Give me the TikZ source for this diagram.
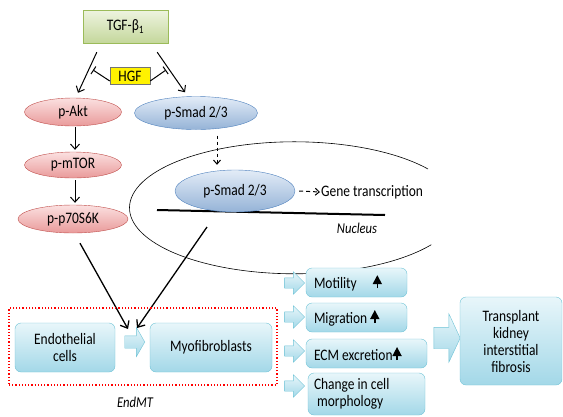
\documentclass[tikz,border=0pt]{standalone}
\usepackage{fontspec}
\setmainfont{Carlito}[FakeStretch=0.84]
\usetikzlibrary{shapes.geometric,shapes.arrows,arrows.meta}

\definecolor{grtop}{HTML}{EEF4E0}
\definecolor{grbot}{HTML}{C4D79B}
\definecolor{grline}{HTML}{9BBB59}
\definecolor{rdtop}{HTML}{FBE0E0}
\definecolor{rdbot}{HTML}{E99A9A}
\definecolor{rdline}{HTML}{C0504D}
\definecolor{bltop}{HTML}{E3ECF7}
\definecolor{blbot}{HTML}{95B3D7}
\definecolor{blline}{HTML}{4F81BD}
\definecolor{cytop}{HTML}{E8F6FA}
\definecolor{cybot}{HTML}{A3D8E8}
\definecolor{cyline}{HTML}{6FC3D6}

\newcommand\upar{\tikz[baseline=0pt]\draw[line width=1.6pt,-{Triangle[width=9pt,length=9pt]}] (0pt,0pt) -- (0pt,13pt);}

\begin{document}
\begin{tikzpicture}[x=1pt,y=-1pt,
    every node/.style={font=\fontsize{16}{17}\selectfont},
    redov/.style={ellipse, draw=rdline, top color=rdtop, bottom color=rdbot,
      inner sep=0pt, minimum width=97, minimum height=28},
    blueov/.style={ellipse, draw=blline, top color=bltop, bottom color=blbot,
      inner sep=0pt},
    cybox/.style={rectangle, rounded corners=6pt, draw=cyline, top color=cytop,
      bottom color=cybot, align=center, inner sep=2pt},
    effbox/.style={cybox, align=flush left, inner xsep=8pt, minimum height=29},
    cyarr/.style={single arrow, draw=cyline, top color=cytop, bottom color=cybot,
      minimum width=0pt, inner sep=5pt, single arrow head extend=6pt},
    arr/.style={-{Straight Barb[length=5pt,width=9pt]}, line width=1pt},
    bigarr/.style={-{Straight Barb[length=6pt,width=10pt]}, line width=1.3pt},
    darr/.style={-{Straight Barb[length=4pt,width=7pt]}, line width=1pt, dashed},
    inh/.style={-{Bar[width=9pt]}, line width=1pt}]
  \useasboundingbox (0,0) rectangle (563,416);

  % signalling
  \node[rectangle, draw=grline, top color=grtop, bottom color=grbot,
    minimum width=85, minimum height=33] (tgf) at (125.5,26.5) {TGF-β\textsubscript{1}};
  \node[rectangle, draw=black!55, fill=yellow, inner sep=1pt,
    minimum width=40, minimum height=17] (hgf) at (130,76) {HGF};
  \node[redov] (akt) at (73,112) {p-Akt};
  \node[redov, minimum height=26] (mtor) at (73,165) {p-mTOR};
  \node[redov, minimum width=110] (p70) at (73,219) {p-p70S6K};
  \node[blueov, minimum width=123, minimum height=33] (smad) at (196,113) {p-Smad 2/3};

  % nucleus
  \draw[line width=0.6pt] (428,169) arc[start angle=-36, end angle=-326,
    x radius=165, y radius=66];
  \draw[line width=2pt] (157,210) -- (385,215);
  \node[blueov, minimum width=120, minimum height=42] (nsmad) at (235,191) {p-Smad 2/3};
  \node[anchor=west, inner sep=1pt] (gene) at (320,192) {Gene transcription};
  \node[font=\fontsize{15}{16}\selectfont\itshape] (nuc) at (357,228) {Nucleus};

  \coordinate (inhL) at (93,70);
  \coordinate (inhR) at (166,70);
  \coordinate (nucout) at (207,227);
  \coordinate (endL) at (128,329);
  \coordinate (endR) at (137,328);

  \draw[arr] ([shift={(14,9)}]tgf.south west) -- ([shift={(5,-5)}]akt.north);
  \draw[arr] ([shift={(-11,9)}]tgf.south east) -- ([shift={(-11,-4)}]smad.north);
  \draw[inh] ([shift={(0,5)}]hgf.west) -- (inhL);
  \draw[inh] ([shift={(0,5)}]hgf.east) -- (inhR);
  \draw[arr, shorten <=1pt, shorten >=2pt] ([xshift=2]akt.south) -- ([xshift=2]mtor.north);
  \draw[arr, shorten <=2pt, shorten >=2pt] ([xshift=2]mtor.south) -- ([xshift=2]p70.north);
  \draw[darr] ([shift={(21,6)}]smad.south) -- ([shift={(-18,-5)}]nsmad.north);
  \draw[darr, dash pattern=on 4pt off 3pt] ([xshift=4]nsmad.east) -- (gene.west);
  \draw[bigarr] ([shift={(7,10)}]p70.south) -- (endL);
  \draw[bigarr] (nucout) -- (endR);

  % EndMT
  \node[draw=red, dotted, line width=1.2pt, minimum width=268, minimum height=77]
    (endmt) at (143,346.5) {};
  \node[font=\fontsize{15}{16}\selectfont\itshape] (endmtlab) at (135,402) {EndMT};
  \node[cybox, minimum width=100, minimum height=49] (endo) at (65,347.5) {Endothelial\\cells};
  \node[cyarr, minimum height=20, inner sep=6pt, single arrow head extend=8.5pt,
    single arrow tip angle=120] (a0) at (133,342) {};
  \node[cybox, minimum width=122, minimum height=49] (myo) at (211,347.5) {Myofibroblasts};

  % effects
  \node[effbox, text width=85] (mot) at (356.5,282.5) {Motility\quad\upar};
  \node[effbox, text width=85] (mig) at (356.5,317.5) {Migration \upar};
  \node[effbox, text width=105] (ecm) at (366.5,353.5) {ECM excretion\upar};
  \node[effbox, text width=105, minimum height=42, inner xsep=6pt] (morph) at (366.5,394)
    {Change in cell\\\ morphology};
  \node[cyarr, minimum height=20] (a1) at (292,283) {};
  \node[cyarr, minimum height=20] (a2) at (292,317) {};
  \node[cyarr, minimum height=20] (a3) at (292,351) {};
  \node[cyarr, minimum height=20] (a4) at (292,386) {};
  \node[cyarr, minimum height=23, inner sep=10.5pt, single arrow head extend=13.5pt,
    single arrow tip angle=130] (a5) at (444.5,338) {};
  \node[cybox, minimum width=102, minimum height=88] (fib) at (511,341)
    {Transplant\\kidney\\interstitial\\fibrosis};
\end{tikzpicture}
\end{document}
